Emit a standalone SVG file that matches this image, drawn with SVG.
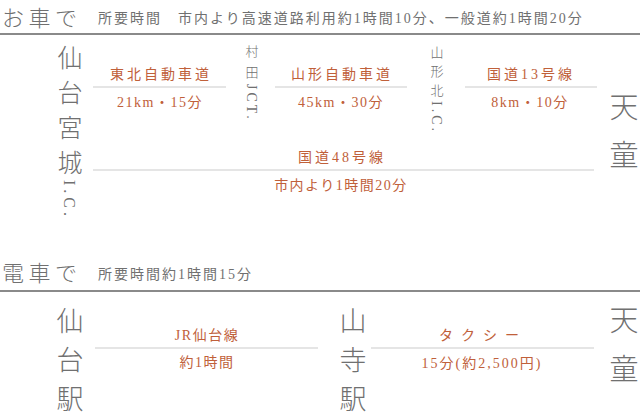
<svg xmlns="http://www.w3.org/2000/svg" width="640" height="416" viewBox="0 0 640 416">
<style>
text{font-family:"Liberation Serif","Noto Sans CJK JP",serif;}
.h{fill:#707070;font-size:22px;letter-spacing:4.5px;font-family:"Noto Sans CJK JP",sans-serif;font-weight:300}
.sub{fill:#707070;font-size:14px;letter-spacing:2px}
.st{fill:#707070;font-size:25px;text-anchor:middle;font-family:"Noto Sans CJK JP",sans-serif;font-weight:300}
.stb{fill:#707070;font-size:29px;text-anchor:middle;font-family:"Noto Sans CJK JP",sans-serif;font-weight:300}
.stc{fill:#707070;font-size:27px;text-anchor:middle;font-family:"Noto Sans CJK JP",sans-serif;font-weight:300}
.sm{fill:#707070;font-size:13px;text-anchor:middle;font-family:"Noto Sans CJK JP",sans-serif;font-weight:300}
.lt{fill:#707070;font-size:14px;letter-spacing:3px}
.lt2{fill:#707070;font-size:16px;letter-spacing:4px}
.o{fill:#c0603a;font-size:14px;text-anchor:middle;letter-spacing:3px}
.on{fill:#c0603a;font-size:14px;text-anchor:middle;letter-spacing:1.5px}
.rule{stroke:#8a8a8a;stroke-width:2}
.c{stroke:#dddddd;stroke-width:1.5}
</style>
<g id="header-car">
<text class="h" x="2" y="26">お車で</text>
<text class="sub" x="98" y="23">所要時間　市内より高速道路利用約1時間10分、一般道約1時間20分</text>
<line class="rule" x1="0" y1="34" x2="640" y2="34"/>
</g>
<g id="sendai-miyagi-ic">
<text class="st" x="70" y="67">仙</text>
<text class="st" x="70" y="102">台</text>
<text class="st" x="70" y="137">宮</text>
<text class="st" x="70" y="172">城</text>
<text class="lt2" transform="translate(64,180) rotate(90)">I.C.</text>
</g>
<g id="murata-jct">
<text class="sm" x="252" y="56">村</text>
<text class="sm" x="252" y="77">田</text>
<text class="lt" transform="translate(247,84) rotate(90)">JCT.</text>
</g>
<g id="yamagatakita-ic">
<text class="sm" x="437" y="57">山</text>
<text class="sm" x="437" y="76">形</text>
<text class="sm" x="437" y="95">北</text>
<text class="lt" transform="translate(432,101) rotate(90)">I.C.</text>
</g>
<g id="tendo-car">
<text class="stb" x="624" y="118">天</text>
<text class="stb" x="624" y="166">童</text>
</g>
<g id="header-train">
<text class="h" x="2" y="281">電車で</text>
<text class="sub" x="98" y="279">所要時間約1時間15分</text>
<line class="rule" x1="0" y1="291" x2="640" y2="291"/>
</g>
<g id="sendai-st">
<text class="stc" x="70" y="331">仙</text>
<text class="stc" x="70" y="370">台</text>
<text class="stc" x="70" y="409">駅</text>
</g>
<g id="yamadera-st">
<text class="stc" x="353" y="331">山</text>
<text class="stc" x="353" y="370">寺</text>
<text class="stc" x="353" y="409">駅</text>
</g>
<g id="tendo-train">
<text class="stb" x="624" y="331">天</text>
<text class="stb" x="624" y="380">童</text>
</g>
<g id="connectors">
<line class="c" x1="93" y1="87" x2="226" y2="87"/>
<text class="o" x="161" y="79">東北自動車道</text>
<text class="on" x="160" y="107">21km・15分</text>
<line class="c" x1="275" y1="87" x2="407" y2="87"/>
<text class="o" x="342" y="79">山形自動車道</text>
<text class="on" x="341" y="107">45km・30分</text>
<line class="c" x1="465" y1="87" x2="597" y2="87"/>
<text class="o" x="531" y="79">国道13号線</text>
<text class="on" x="530" y="107">8km・10分</text>
<line class="c" x1="93" y1="170" x2="594" y2="170"/>
<text class="o" x="342" y="162">国道48号線</text>
<text class="on" x="341" y="190">市内より1時間20分</text>
<line class="c" x1="95" y1="348" x2="318" y2="348"/>
<text class="on" x="207" y="340">JR仙台線</text>
<text class="on" x="207" y="367">約1時間</text>
<line class="c" x1="371" y1="348" x2="594" y2="348"/>
<text class="on" x="483" y="340" style="letter-spacing:8px">タクシー</text>
<text class="on" x="482" y="368" style="letter-spacing:2px">15分(約2,500円)</text>
</g>
</svg>
